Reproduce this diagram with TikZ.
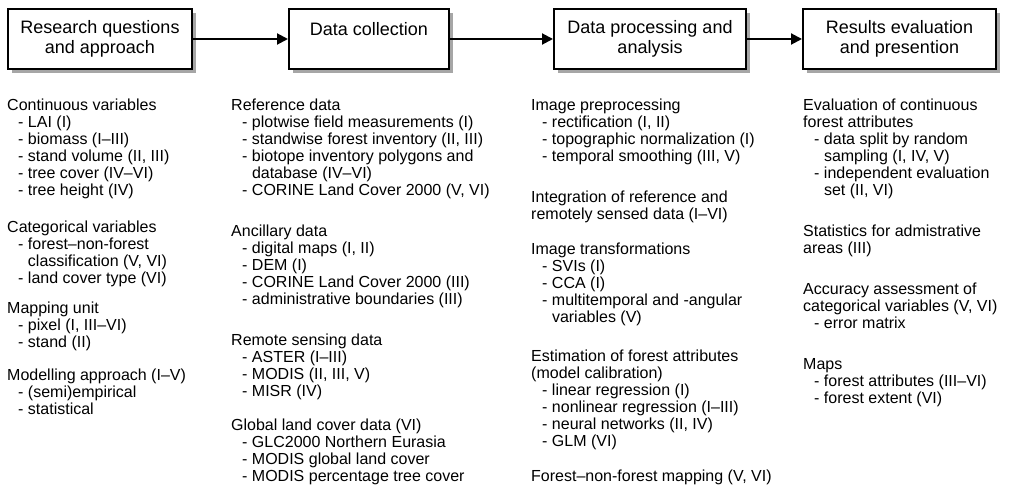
\documentclass[tikz,border=0pt]{standalone}
\usepackage{fontspec}
\setmainfont{Liberation Sans}
\usepackage{tikz}
\usetikzlibrary{arrows.meta,shadows,positioning}
\tikzset{
    stage/.style={draw=black, line width=2pt, fill=white, minimum height=60pt,
        align=center, inner sep=0pt, font=\fontsize{18}{20}\selectfont,
        drop shadow={shadow xshift=4pt, shadow yshift=-4pt, fill=black!35, opacity=1}},
    flow/.style={draw=black, line width=2pt, -{Triangle[length=11pt,width=11pt]}},
    notes/.style={anchor=base west, align=left, inner sep=0pt,
        font=\fontsize{16}{17}\selectfont},
}
\newcommand{\itm}{\hspace*{11pt}-\ }
\newcommand{\cnt}{\hspace*{20.8pt}}
\newcommand{\gap}[1][24pt]{\\[#1]}

\begin{document}
\begin{tikzpicture}[x=1pt, y=1pt]
    \useasboundingbox (0,0) rectangle (1011,-502);
    % stages
    \node[stage, minimum width=184pt] (research) at (100,-39) {Research questions\\and approach};
    \node[stage, minimum width=160pt] (collect) at (369,-39) {Data collection\\\mbox{}};
    \node[stage, minimum width=192pt] (process) at (650,-39) {Data processing and\\analysis};
    \node[stage, minimum width=193pt] (results) at (899.5,-39) {Results evaluation\\and presention};
    \draw[flow] (research) -- (collect);
    \draw[flow] (collect) -- (process);
    \draw[flow] (process) -- (results);
    % contents of each stage (anchored at the last line)
    \node[notes] (researchlist) at (7,-414) {Continuous variables\\
        \itm LAI (I)\\
        \itm biomass (I–III)\\
        \itm stand volume (II, III)\\
        \itm tree cover (IV–VI)\\
        \itm tree height (IV)\gap[20pt]
        Categorical variables\\
        \itm forest–non-forest\\
        \cnt classification (V, VI)\\
        \itm land cover type (VI)\gap[13pt]
        Mapping unit\\
        \itm pixel (I, III–VI)\\
        \itm stand (II)\gap[16pt]
        Modelling approach (I–V)\\
        \itm (semi)empirical\\
        \itm statistical};
    \node[notes] (collectlist) at (231,-481) {Reference data\\
        \itm plotwise field measurements (I)\\
        \itm standwise forest inventory (II, III)\\
        \itm biotope inventory polygons and\\
        \cnt database (IV–VI)\\
        \itm CORINE Land Cover 2000 (V, VI)\gap
        Ancillary data\\
        \itm digital maps (I, II)\\
        \itm DEM (I)\\
        \itm CORINE Land Cover 2000 (III)\\
        \itm administrative boundaries (III)\gap
        Remote sensing data\\
        \itm ASTER (I–III)\\
        \itm MODIS (II, III, V)\\
        \itm MISR (IV)\gap[17pt]
        Global land cover data (VI)\\
        \itm GLC2000 Northern Eurasia\\
        \itm MODIS global land cover\\
        \itm MODIS percentage tree cover};
    \node[notes] (processlist) at (531,-481) {Image preprocessing\\
        \itm rectification (I, II)\\
        \itm topographic normalization (I)\\
        \itm temporal smoothing (III, V)\gap
        Integration of reference and\\
        remotely sensed data (I–VI)\gap[18pt]
        Image transformations\\
        \itm SVIs (I)\\
        \itm CCA (I)\\
        \itm multitemporal and -angular\\
        \cnt variables (V)\gap[22pt]
        Estimation of forest attributes\\
        (model calibration)\\
        \itm linear regression (I)\\
        \itm nonlinear regression (I–III)\\
        \itm neural networks (II, IV)\\
        \itm GLM (VI)\gap[18pt]
        Forest–non-forest mapping (V, VI)};
    \node[notes] (resultslist) at (803,-403) {Evaluation of continuous\\
        forest attributes\\
        \itm data split by random\\
        \cnt sampling (I, IV, V)\\
        \itm independent evaluation\\
        \cnt set (II, VI)\gap
        Statistics for admistrative\\
        areas (III)\gap
        Accuracy assessment of\\
        categorical variables (V, VI)\\
        \itm error matrix\gap
        Maps\\
        \itm forest attributes (III–VI)\\
        \itm forest extent (VI)};
\end{tikzpicture}
\end{document}
